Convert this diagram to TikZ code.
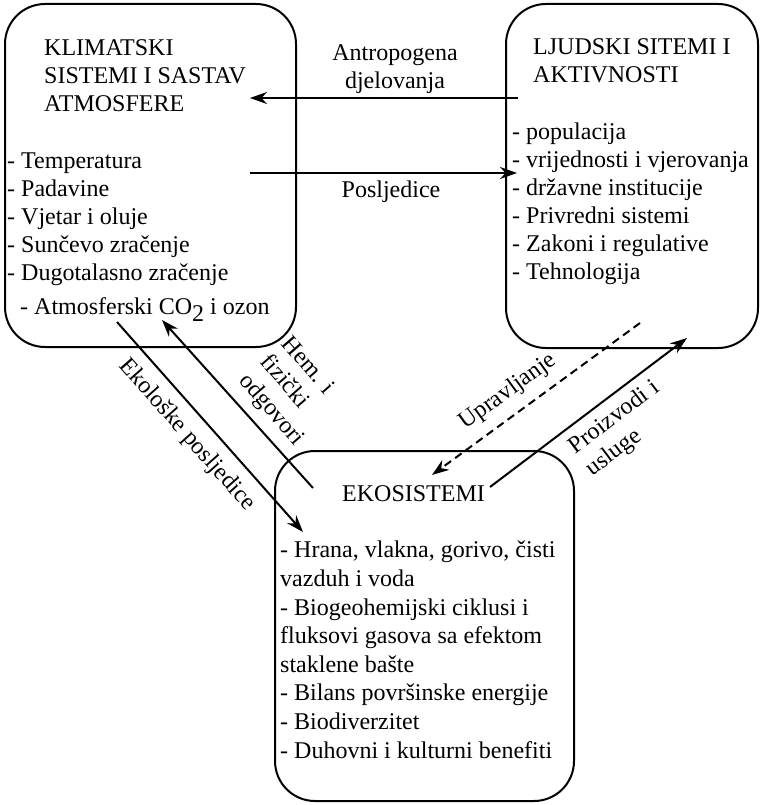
\documentclass[tikz,border=0pt]{standalone}
\usepackage{fontspec}
\setmainfont{Liberation Serif}
\usetikzlibrary{arrows.meta}

\begin{document}
\begin{tikzpicture}[
  x=1pt,y=-1pt,
  >={Stealth[length=17pt,width=12pt]},
  font=\fontsize{24}{28}\selectfont,
  okvir/.style={draw, line width=2pt, rounded corners=40pt, inner sep=0pt},
  tekst/.style={inner sep=0pt, anchor=base west, align=left},
  natpis/.style={inner sep=0pt, align=center},
  kosi/.style={inner sep=0pt, align=left},
  veza/.style={->, line width=2pt},
  upr/.style={->, line width=2pt, dash pattern=on 8pt off 5pt}
]
\useasboundingbox (0,0) rectangle (760,805);

% okviri
\node[okvir, minimum width=291pt, minimum height=343pt] (klima) at (150.5,175.5) {};
\node[okvir, minimum width=252pt, minimum height=344pt] (ljudi) at (632,176) {};
\node[okvir, minimum width=299pt, minimum height=350pt] (eko) at (424.5,626) {};

% tekst u okvirima (base = zadnji red)
\node[tekst] (klimanaslov) at (44,112) {KLIMATSKI\\SISTEMI I SASTAV\\ATMOSFERE};
\node[tekst] (klimalista) at (7,314) {- Temperatura\\- Padavine\\- Vjetar i oluje\\- Sunčevo zračenje\\- Dugotalasno zračenje\\[6pt]\hspace{13pt}- Atmosferski CO\raisebox{-7pt}{2} i ozon};

\node[tekst] (ljudinaslov) at (533,83) {LJUDSKI SITEMI I\\AKTIVNOSTI};
\node[tekst] (ljudilista) at (512,279) {- populacija\\- vrijednosti i vjerovanja\\- državne institucije\\- Privredni sistemi\\- Zakoni i regulative\\- Tehnologija};

\node[tekst] (ekonaslov) at (342,501) {EKOSISTEMI};
\node[tekst, font=\fontsize{24}{28.6}\selectfont] (ekolista) at (280,758) {- Hrana, vlakna, gorivo, čisti\\vazduh i voda\\- Biogeohemijski ciklusi i\\fluksovi gasova sa efektom\\staklene bašte\\- Bilans površinske energije\\- Biodiverzitet\\- Duhovni i kulturni benefiti};

% krajevi strelica
\coordinate (antrA) at (518,98);
\coordinate (antrB) at (250,98);
\coordinate (poslA) at (250,173);
\coordinate (poslB) at (517,173);
\coordinate (ekolA) at (117,322);
\coordinate (ekolB) at (303,532);
\coordinate (hemA) at (313,488);
\coordinate (hemB) at (162,320);
\coordinate (uprA) at (640,323);
\coordinate (uprB) at (432,475);
\coordinate (proA) at (490,487);
\coordinate (proB) at (687,338);

% strelice
\draw[veza] (antrA) -- (antrB);
\draw[veza] (poslA) -- (poslB);
\draw[veza] (ekolA) -- (ekolB);
\draw[veza] (hemA) -- (hemB);
\draw[upr] (uprA) -- (uprB);
\draw[veza] (proA) -- (proB);

% natpisi
\node[natpis, anchor=base] (antrtekst) at (395,89) {Antropogena\\djelovanja};
\node[natpis, anchor=base] (posltekst) at (391,197) {Posljedice};
\node[natpis, rotate=-48.5] (ekoltekst) at (187,435) {Ekološke posljedice};
\node[kosi, rotate=-49] (hemtekst) at (292,392) {Hem. i\\fizički\\odgovori};
\node[natpis, rotate=36] (uprtekst) at (508,392) {Upravljanje};
\node[kosi, rotate=37] (protekst) at (623,429) {Proizvodi i\\usluge};

\end{tikzpicture}
\end{document}
